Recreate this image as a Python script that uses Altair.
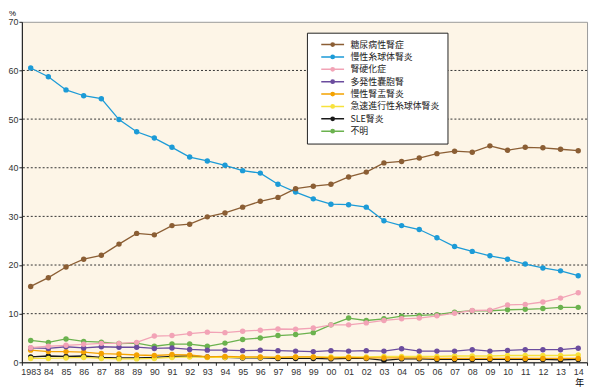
import altair as alt
import pandas as pd

years = list(range(1983, 2015))
series_names = ["糖尿病性腎症", "慢性糸球体腎炎", "腎硬化症", "多発性嚢胞腎",
                "慢性腎盂腎炎", "急速進行性糸球体腎炎", "SLE腎炎", "不明"]
colors = ["#8b5e34", "#1c9bd7", "#f2a3b6", "#6b4c9e",
          "#f4a200", "#f7e23c", "#1a1a1a", "#6bb24e"]

diabetic = [15.6, 17.4, 19.6, 21.2, 22.0, 24.3, 26.5, 26.2, 28.1, 28.4, 29.9, 30.7,
            31.9, 33.1, 33.9, 35.7, 36.2, 36.6, 38.1, 39.1, 41.0, 41.3, 42.0, 42.9,
            43.4, 43.2, 44.5, 43.6, 44.2, 44.1, 43.8, 43.5]
glomerulo = [60.5, 58.7, 56.0, 54.8, 54.2, 49.9, 47.4, 46.1, 44.2, 42.2, 41.4, 40.5,
             39.4, 38.9, 36.6, 35.0, 33.6, 32.5, 32.4, 31.9, 29.1, 28.1, 27.3, 25.6,
             23.8, 22.8, 21.9, 21.2, 20.2, 19.4, 18.8, 17.8]
nephrosclerosis = [3.0, 3.3, 3.5, 3.7, 3.9, 3.9, 4.1, 5.4, 5.5, 5.9, 6.2, 6.1,
                   6.4, 6.6, 6.85, 6.8, 7.05, 7.7, 7.7, 8.1, 8.6, 8.95, 9.1, 9.55,
                   10.1, 10.65, 10.7, 11.8, 11.9, 12.4, 13.2, 14.3]
polycystic = [2.95, 2.85, 3.2, 2.95, 3.2, 3.1, 3.1, 2.85, 2.95, 2.65, 2.5, 2.5,
              2.4, 2.5, 2.4, 2.3, 2.2, 2.4, 2.3, 2.4, 2.3, 2.8, 2.3, 2.3,
              2.3, 2.6, 2.3, 2.45, 2.6, 2.6, 2.6, 2.9]
pyelo = [2.5, 2.2, 2.2, 2.1, 1.8, 1.7, 1.5, 1.4, 1.6, 1.5, 1.1, 1.2,
         1.1, 1.1, 1.0, 1.1, 1.1, 0.9, 1.0, 0.9, 0.9, 0.9, 0.9, 0.8,
         0.8, 0.8, 0.8, 0.8, 0.8, 0.8, 0.8, 0.8]
rpgn = [0.8, 0.8, 0.9, 1.0, 0.8, 0.7, 0.7, 0.8, 1.0, 1.1, 1.0, 1.0,
        1.0, 1.0, 1.0, 1.1, 1.1, 1.1, 1.1, 1.1, 1.2, 1.2, 1.2, 1.2,
        1.3, 1.3, 1.3, 1.4, 1.4, 1.4, 1.4, 1.5]
sle = [1.1, 1.3, 1.2, 1.3, 1.0, 0.9, 0.9, 1.0, 1.2, 1.3, 1.1, 1.0,
       0.9, 0.9, 0.8, 0.8, 0.8, 0.7, 0.8, 0.8, 0.4, 0.7, 0.7, 0.6,
       0.6, 0.6, 0.6, 0.6, 0.6, 0.6, 0.5, 0.6]
unknown = [4.5, 4.1, 4.8, 4.3, 4.15, 3.85, 3.95, 3.3, 3.75, 3.75, 3.3, 3.95,
           4.7, 5.0, 5.5, 5.7, 6.1, 7.7, 9.1, 8.6, 8.95, 9.5, 9.65, 9.8,
           10.3, 10.6, 10.6, 10.8, 10.9, 11.05, 11.3, 11.3]

grid_values = [10, 20, 30, 40, 50, 60]
y_ticks = [0, 10, 20, 30, 40, 50, 60, 70]

all_series = [diabetic, glomerulo, nephrosclerosis, polycystic, pyelo, rpgn, sle, unknown]
rows = []
# add series in reverse so that the first legend entries are drawn on top
for name, vals in reversed(list(zip(series_names, all_series))):
    for yr, v in zip(years, vals):
        rows.append({"year": yr, "series": name, "value": v})
df = pd.DataFrame(rows)
grid_df = pd.DataFrame({"v": grid_values})

num_font = "Liberation Sans Narrow, Liberation Sans, Arial"
jp_font = "Noto Sans CJK JP"

legend_symbol = ("M-3,0H3M-0.43,0A0.43,0.43,0,1,1,0.43,0"
                 "A0.43,0.43,0,1,1,-0.43,0")

x_enc = alt.X(
    "year:O",
    bandPosition=0.5,
    scale=alt.Scale(type="band", paddingInner=0, paddingOuter=0),
    axis=alt.Axis(
        title="年", titleFont=jp_font, titleFontSize=9, titleFontWeight="normal",
        titleX=563, titleY=23, titleBaseline="alphabetic", titleAlign="center",
        labelExpr="datum.value == 1983 ? '1983' : substring(datum.label, 2)",
        labelAngle=0, labelFont=num_font, labelFontSize=9, labelColor="#333",
        labelPadding=2, tickBand="extent", tickSize=3, tickColor="#222",
        domainColor="#111", grid=False,
    ),
)
y_enc = alt.Y(
    "value:Q",
    scale=alt.Scale(domain=[0, 70], nice=False, zero=True),
    axis=alt.Axis(
        values=y_ticks, grid=False, title="%", titleAngle=0,
        titleFont=num_font, titleFontSize=8, titleFontWeight="normal",
        titleX=-10, titleY=-12.5, titleBaseline="top", titleAlign="center",
        labelFont=num_font, labelFontSize=9, labelColor="#333",
        labelPadding=1, tickSize=3, tickColor="#222", domainColor="#111",
    ),
)

grid = alt.Chart(grid_df).mark_rule(
    color="#333", strokeDash=[2, 2], strokeWidth=1
).encode(y=alt.Y("v:Q", scale=alt.Scale(domain=[0, 70], nice=False)))

lines = alt.Chart(df).mark_line(
    strokeWidth=1.3,
    point=alt.OverlayMarkDef(filled=True, size=30, opacity=1),
).encode(
    x=x_enc,
    y=y_enc,
    color=alt.Color(
        "series:N",
        scale=alt.Scale(domain=series_names, range=colors),
        legend=alt.Legend(
            title=None, orient="none", legendX=288, legendY=11,
            fillColor="#ffffff", strokeColor="#222", padding=7,
            rowPadding=2.5, labelFont=jp_font, labelFontSize=9,
            labelColor="#222", symbolType=legend_symbol, symbolSize=59,
            symbolStrokeWidth=1.5, symbolOffset=14, labelOffset=13,
        ),
    ),
)

chart = alt.layer(grid, lines).properties(
    width=571, height=344,
    padding={"left": 14, "top": 12, "right": 5, "bottom": 24},
    autosize="none",
).configure_view(fill="#fdf5e7", stroke="#9a9a9a", strokeWidth=1)

chart.save("out.html", embed_options={"renderer": "svg", "actions": False})
